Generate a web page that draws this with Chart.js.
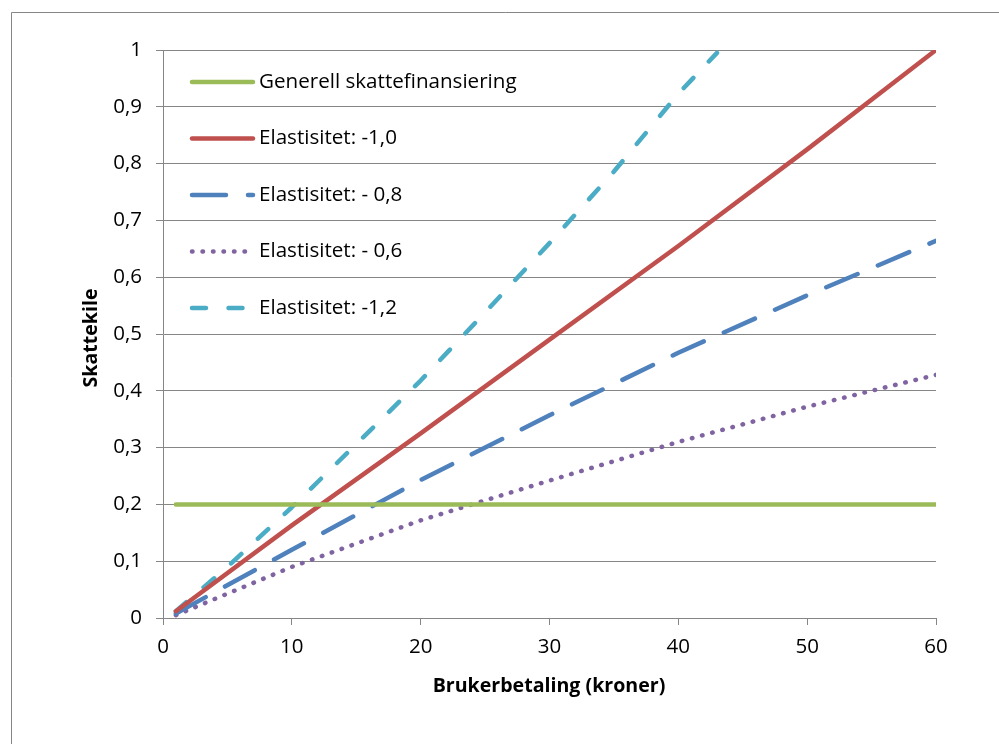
<!DOCTYPE html>
<html>
<head>
<meta charset="utf-8">
<script src="https://cdn.jsdelivr.net/npm/chart.js@4.4.1/dist/chart.umd.min.js"></script>
<style>
  html, body { margin: 0; padding: 0; background: #ffffff; }
  #wrap { width: 999px; height: 744px; }
  canvas { display: block; }
</style>
</head>
<body>
<div id="wrap"><canvas id="c" width="999" height="744"></canvas></div>
<script>
// ---- Data ----
const xTitle = 'Brukerbetaling (kroner)';
const yTitle = 'Skattekile';
const seriesLabels = ['Generell skattefinansiering', 'Elastisitet: -1,0', 'Elastisitet: - 0,8', 'Elastisitet: - 0,6', 'Elastisitet: -1,2'];

const xGeneral = [1, 60];
const yGeneral = [0.2, 0.2];

const xElast = [1, 10, 20, 30, 40, 50, 60];
const yElast10 = [0.012, 0.163, 0.325, 0.49, 0.655, 0.825, 1.0];
const yElast08 = [0.008, 0.12, 0.243, 0.357, 0.467, 0.568, 0.664];
const yElast06 = [0.005, 0.09, 0.172, 0.242, 0.31, 0.372, 0.428];

const xElast12 = [1, 5, 10, 15, 20, 25, 30, 35, 40, 43];
const yElast12 = [0.012, 0.09, 0.195, 0.306, 0.418, 0.538, 0.66, 0.786, 0.923, 0.995];

const xTicks = [0, 10, 20, 30, 40, 50, 60];
const yTicks = [0, 0.1, 0.2, 0.3, 0.4, 0.5, 0.6, 0.7, 0.8, 0.9, 1];

// ---- helpers ----
const pts = (xs, ys) => xs.map((x, i) => ({ x: x, y: ys[i] }));
const FONT = '"Open Sans", Lato, sans-serif';
const GRID = '#868686';

const datasets = [
  { label: seriesLabels[0], data: pts(xGeneral, yGeneral), borderColor: '#9BBB59', borderWidth: 4.5, borderCapStyle: 'round', borderDash: [] },
  { label: seriesLabels[1], data: pts(xElast, yElast10), borderColor: '#C0504D', borderWidth: 4.5, borderCapStyle: 'round', borderDash: [] },
  { label: seriesLabels[2], data: pts(xElast, yElast08), borderColor: '#4F81BD', borderWidth: 4.5, borderCapStyle: 'round', borderDash: [34, 22] },
  { label: seriesLabels[3], data: pts(xElast, yElast06), borderColor: '#8064A2', borderWidth: 4.5, borderCapStyle: 'round', borderDash: [0.5, 10] },
  { label: seriesLabels[4], data: pts(xElast12, yElast12), borderColor: '#4BACC6', borderWidth: 4.5, borderCapStyle: 'round', borderDash: [14, 22.5] }
].map(d => Object.assign(d, { fill: false, pointRadius: 0, pointHoverRadius: 0, tension: 0, borderJoinStyle: 'round' }));

const decorPlugin = {
  id: 'decor',
  beforeDraw(chart) {
    const ctx = chart.ctx;
    ctx.save();
    ctx.fillStyle = '#ffffff';
    ctx.fillRect(0, 0, chart.width, chart.height);
    ctx.strokeStyle = GRID;
    ctx.lineWidth = 1;
    ctx.beginPath();
    ctx.moveTo(11.5, chart.height + 5);
    ctx.lineTo(11.5, 12.5);
    ctx.lineTo(chart.width + 5, 12.5);
    ctx.stroke();
    ctx.restore();
  },
  afterDraw(chart) {
    const ctx = chart.ctx;
    const area = chart.chartArea;
    ctx.save();
    // axis titles
    ctx.fillStyle = '#000000';
    ctx.font = 'bold 19.6px ' + FONT;
    ctx.textAlign = 'center';
    ctx.textBaseline = 'middle';
    ctx.fillText(xTitle, 549, 686);
    ctx.save();
    ctx.translate(91, 338);
    ctx.rotate(-Math.PI / 2);
    ctx.fillText(yTitle, 0, 0);
    ctx.restore();
    // legend inside plot area
    ctx.font = '20.6px ' + FONT;
    ctx.textAlign = 'left';
    chart.data.datasets.forEach((ds, i) => {
      const y = area.top + 32 + i * 56.5;
      const x0 = area.left + 29, x1 = area.left + 90;
      ctx.save();
      ctx.strokeStyle = ds.borderColor;
      ctx.lineWidth = ds.borderWidth;
      ctx.lineCap = 'round';
      ctx.setLineDash(ds.borderDash || []);
      ctx.beginPath();
      ctx.moveTo(x0, y);
      ctx.lineTo(x1, y);
      ctx.stroke();
      ctx.restore();
      ctx.fillStyle = '#000000';
      ctx.fillText(ds.label, area.left + 96, y);
    });
    ctx.restore();
  }
};

new Chart(document.getElementById('c'), {
  type: 'line',
  data: { datasets: datasets },
  options: {
    responsive: false,
    animation: false,
    devicePixelRatio: 1,
    layout: { padding: { left: 0, right: 63, top: 50, bottom: 0 } },
    plugins: { legend: { display: false }, tooltip: { enabled: false }, title: { display: false } },
    scales: {
      x: {
        type: 'linear',
        min: 0, max: 60,
        afterFit(scale) { scale.height = 126; },
        afterBuildTicks(scale) { scale.ticks = xTicks.map(v => ({ value: v })); },
        grid: { drawOnChartArea: false, drawTicks: true, tickLength: 7, color: GRID, lineWidth: 1 },
        border: { display: true, color: GRID, width: 1 },
        ticks: { color: '#000000', font: { family: FONT, size: 20.5 }, padding: 10, maxRotation: 0 }
      },
      y: {
        type: 'linear',
        min: 0, max: 1,
        afterFit(scale) { scale.width = 163; },
        afterBuildTicks(scale) { scale.ticks = yTicks.map(v => ({ value: v })); },
        grid: { drawOnChartArea: true, drawTicks: true, tickLength: 7, color: GRID, lineWidth: 1 },
        border: { display: true, color: GRID, width: 1 },
        ticks: {
          color: '#000000', font: { family: FONT, size: 20.5 }, padding: 14,
          callback: v => String(Math.round(v * 10) / 10).replace('.', ',')
        }
      }
    }
  },
  plugins: [decorPlugin]
});
</script>
</body>
</html>
